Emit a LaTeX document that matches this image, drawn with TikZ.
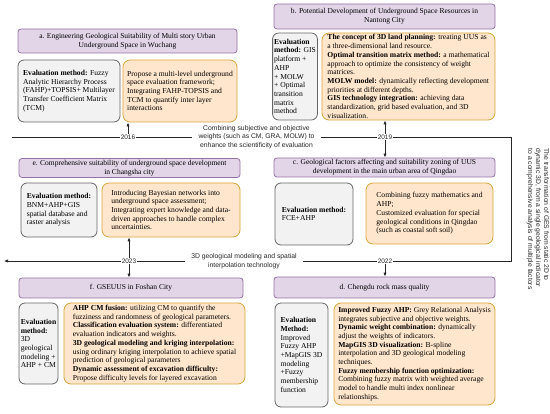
\documentclass[tikz,border=0pt]{standalone}
\usepackage{fontspec}
\setmainfont{Liberation Serif}
\setsansfont{Liberation Sans}
\usetikzlibrary{arrows.meta}
\definecolor{tfill}{HTML}{E1D5E7}
\definecolor{tdraw}{HTML}{9673A6}
\definecolor{gfill}{HTML}{F2F2F2}
\definecolor{gdraw}{HTML}{666666}
\definecolor{ofill}{HTML}{FFE6CC}
\definecolor{odraw}{HTML}{D9A53A}
\definecolor{ink}{HTML}{262626}
\begin{document}
\begin{tikzpicture}[x=1pt,y=-1pt,
  boxtxt/.style={font=\fontsize{7.6}{8.7}\selectfont, align=left, inner xsep=1.5pt, inner ysep=0.3pt, line width=0.8pt},
  titlebox/.style={draw=tdraw, fill=tfill, rounded corners=3pt, font=\fontsize{7.5}{9.3}\selectfont, align=center, line width=0.8pt, inner sep=0.8pt},
  graybox/.style={boxtxt, draw=gdraw, fill=gfill, rounded corners=6pt},
  orangebox/.style={boxtxt, draw=odraw, fill=ofill, rounded corners=7pt},
  yearlbl/.style={font=\sffamily\fontsize{6.5}{7}\selectfont, text=ink, inner sep=0.8pt},
  midlbl/.style={font=\sffamily\fontsize{6.8}{8.6}\selectfont, align=center, text=ink, inner xsep=6pt, inner ysep=1pt},
  tl/.style={draw=ink, line width=0.7pt},
  arr/.style={tl, -{Latex[length=4pt,width=3.2pt]}},
  sz/.style 2 args={minimum width=#1, minimum height=#2},
]
\useasboundingbox (0,0) rectangle (550,414);

% ---- a
\node[titlebox, sz={219}{24}] (ta) at (127.5,41) {a. Engineering Geological Suitability of Multi story Urban\\Underground Space in Wuchang};
\node[graybox, sz={102}{62}] (ga) at (69,91) {\textbf{Evaluation method:} Fuzzy\\Analytic Hierarchy Process\\(FAHP)+TOPSIS+ Multilayer\\Transfer Coefficient Matrix\\(TCM)};
\node[orangebox, sz={114}{62}] (oa) at (180,91) {Propose a multi-level underground\\space evaluation framework;\\Integrating FAHP-TOPSIS and\\TCM to quantify inter layer\\interactions};

% ---- b
\node[titlebox, sz={221}{25}] (tb) at (384.5,16.5) {b. Potential Development of Underground Space Resources in\\Nantong City};
\node[graybox, sz={44}{87}] (gb) at (295,76.5) {\textbf{Evaluation}\\\textbf{method:} GIS\\platform +\\AHP\\+ MOLW\\+ Optimal\\transition\\matrix\\method};
\node[orangebox, sz={173}{87}] (ob) at (408.5,76.5) {\textbf{The concept of 3D land planning:} treating UUS as\\a three-dimensional land resource.\\\textbf{Optimal transition matrix method:} a mathematical\\approach to optimize the consistency of weight\\matrices.\\\textbf{MOLW model:} dynamically reflecting development\\priorities at different depths.\\\textbf{GIS technology integration:} achieving data\\standardization, grid based evaluation, and 3D\\visualization.};

% ---- c
\node[titlebox, sz={221}{19}] (tc) at (384.5,167.5) {c. Geological factors affecting and suitability zoning of UUS\\development in the main urban area of Qingdao};
\node[graybox, sz={78}{62}] (gc) at (314,214) {\textbf{Evaluation method:}\\FCE+AHP};
\node[orangebox, sz={127}{61}] (oc) at (429.5,213.5) {Combining fuzzy mathematics and\\AHP;\\Customized evaluation for special\\geological conditions in Qingdao\\(such as coastal soft soil)};

% ---- e
\node[titlebox, sz={221}{19}] (te) at (129.5,168) {e. Comprehensive suitability of underground space development\\in Changsha city};
\node[graybox, sz={76}{54}] (ge) at (59,210) {\textbf{Evaluation method:}\\BNM+AHP+GIS\\spatial database and\\raster analysis};
\node[orangebox, sz={138}{54}] (oe) at (171,210) {Introducing Bayesian networks into\\underground space assessment;\\Integrating expert knowledge and data-\\driven approaches to handle complex\\uncertainties.};

% ---- f
\node[titlebox, sz={224}{20}] (tf) at (131,288) {f. GSEUUS in Foshan City};
\node[graybox, sz={39}{81}] (gf) at (38.5,343.5) {\textbf{Evaluation}\\\textbf{method:}\\3D\\geological\\modeling +\\AHP + CM};
\node[orangebox, sz={181}{81}] (of) at (154.5,343.5) {\textbf{AHP CM fusion:} utilizing CM to quantify the\\fuzziness and randomness of geological parameters.\\\textbf{Classification evaluation system:} differentiated\\evaluation indicators and weights.\\\textbf{3D geological modeling and kriging interpolation:}\\using ordinary kriging interpolation to achieve spatial\\prediction of geological parameters\\\textbf{Dynamic assessment of excavation difficulty:}\\Propose difficulty levels for layered excavation};

% ---- d
\node[titlebox, sz={221}{21}] (td) at (384.5,287.5) {d. Chengdu rock mass quality};
\node[graybox, sz={53}{104}] (gd) at (301.5,355) {\textbf{Evaluation}\\\textbf{Method:}\\Improved\\Fuzzy AHP\\+MapGIS 3D\\modeling\\+Fuzzy\\membership\\function};
\node[orangebox, sz={161}{102}] (od) at (414.5,354) {\textbf{Improved Fuzzy AHP:} Grey Relational Analysis\\integrates subjective and objective weights.\\\textbf{Dynamic weight combination:} dynamically\\adjust the weights of indicators.\\\textbf{MapGIS 3D visualization:} B-spline\\interpolation and 3D geological modeling\\techniques.\\\textbf{Fuzzy membership function optimization:}\\Combining fuzzy matrix with weighted average\\model to handle multi index nonlinear\\relationships.};

% ---- timeline
\coordinate (s1) at (12,137);
\node[yearlbl] (y16) at (128,137) {2016};
\node[midlbl] (m1) at (256.5,137) {Combining subjective and objective\\weights (such as CM, GRA, MOLW) to\\enhance the scientificity of evaluation};
\node[yearlbl] (y19) at (385,137) {2019};
\coordinate (c1) at (511,137);
\coordinate (c2) at (511,261);
\node[yearlbl] (y22) at (385,261) {2022};
\node[midlbl] (m2) at (244,261) {3D geological modeling and spatial\\interpolation technology};
\node[yearlbl] (y23) at (129,261) {2023};
\coordinate (e2) at (4,261);
\draw[arr] (s1) -- (y16) -- (m1) -- (y19) -- (c1) -- (c2) -- (y22) -- (m2) -- (y23) -- (e2);

\draw[arr] (y16.north) -- (y16.north |- oa.south);
\draw[arr] (y19.north) -- (y19.north |- ob.south);
\draw[arr] (y19.south) -- (y19.south |- tc.north);
\draw[arr] (y22.south) -- (y22.south |- td.north);
\draw[arr] (y23.north) -- (y23.north |- oe.south);
\draw[arr] (y23.south) -- (y23.south |- tf.north);

\node[rotate=-90, font=\sffamily\fontsize{6.8}{8}\selectfont, align=left, text=ink, inner sep=0pt] (vt) at (538,219) {The transformation of GES from static 2D to\\dynamic 3D, from a single geological indicator\\to a comprehensive analysis of multiple factors};
\end{tikzpicture}
\end{document}
